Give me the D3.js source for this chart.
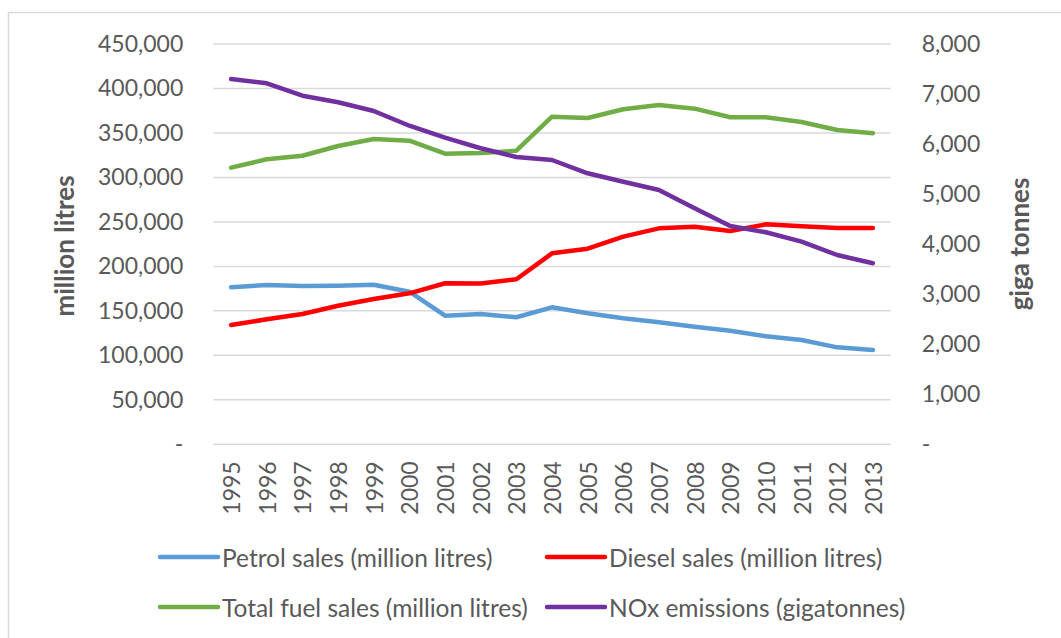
<!DOCTYPE html>
<html>
<head>
<meta charset="utf-8">
<script src="https://cdn.jsdelivr.net/npm/d3@7"></script>
<style>
  html, body { margin: 0; padding: 0; background: #fff; }
  svg { display: block; }
  text { font-family: Lato, "Open Sans", sans-serif; fill: #595959; }
</style>
</head>
<body>
<svg id="chart" width="1061" height="638"></svg>
<script>
const years = ["1995","1996","1997","1998","1999","2000","2001","2002","2003","2004","2005","2006","2007","2008","2009","2010","2011","2012","2013"];
const petrolSales = [176500,179000,178000,178300,179400,171500,144600,146500,142800,154000,147300,141600,137100,132200,127700,121400,117200,109000,106000];
const dieselSales = [134100,140500,146500,155800,163300,169700,181000,180800,185500,214700,219900,233400,242800,244600,239800,247300,245000,243200,243200];
const totalSales = [311000,320400,324400,335300,343200,341300,326700,327500,330000,368300,366800,376600,381400,377300,367600,367600,362300,353300,349600];
const noxEmissions = [7300,7215,6967,6835,6661,6367,6128,5916,5742,5682,5416,5248,5082,4716,4363,4237,4049,3783,3617];
const leftTicks = [0,50000,100000,150000,200000,250000,300000,350000,400000,450000];
const rightTicks = [0,1000,2000,3000,4000,5000,6000,7000,8000];
const seriesNames = ["Petrol sales (million litres)","Diesel sales (million litres)","Total fuel sales (million litres)","NOx emissions (gigatonnes)"];
const seriesColors = ["#5b9bd5","#ff0000","#70ad47","#7030a0"];

const svg = d3.select("#chart");
const plot = {left: 213.3, right: 890.7, top: 44, bottom: 444.3};

svg.append("rect").attr("x", 8.5).attr("y", 12.5).attr("width", 1100).attr("height", 700)
  .attr("fill", "#fff").attr("stroke", "#d9d9d9").attr("stroke-width", 1.5);

const x = d3.scaleBand().domain(years).range([plot.left, plot.right]);
const cx = d => x(d) + x.bandwidth() / 2;
const yL = d3.scaleLinear().domain([0, 450000]).range([plot.bottom, plot.top]);
const yR = d3.scaleLinear().domain([0, 8000]).range([plot.bottom, plot.top]);
const fmt = v => v === 0 ? "-" : d3.format(",")(v);

// gridlines
svg.append("g").selectAll("line").data(leftTicks).join("line")
  .attr("x1", plot.left).attr("x2", plot.right)
  .attr("y1", d => yL(d)).attr("y2", d => yL(d))
  .attr("stroke", "#d9d9d9").attr("stroke-width", 1.5);

// left axis
const leftAxis = svg.append("g").attr("transform", `translate(${plot.left},0)`)
  .call(d3.axisLeft(yL).tickValues(leftTicks).tickFormat(fmt).tickSize(0).tickPadding(30));
leftAxis.select(".domain").remove();
leftAxis.selectAll("text").style("font-size", "23px").style("fill", "#595959")
  .style("font-family", "Lato, 'Open Sans', sans-serif");

// right axis
const rightAxis = svg.append("g").attr("transform", `translate(${plot.right},0)`)
  .call(d3.axisRight(yR).tickValues(rightTicks).tickFormat(fmt).tickSize(0).tickPadding(31));
rightAxis.select(".domain").remove();
rightAxis.selectAll("text").style("font-size", "23px").style("fill", "#595959")
  .style("font-family", "Lato, 'Open Sans', sans-serif");

// x axis
const xAxis = svg.append("g").attr("transform", `translate(0,${plot.bottom})`)
  .call(d3.axisBottom(x).tickSize(0).tickPadding(0));
xAxis.select(".domain").remove();
xAxis.selectAll("text")
  .style("font-size", "23px").style("fill", "#595959")
  .style("font-family", "Lato, 'Open Sans', sans-serif")
  .attr("text-anchor", "end").attr("dy", null).attr("y", 0)
  .attr("transform", "translate(0,17) rotate(-90)")
  .attr("dominant-baseline", "central");

// axis titles
svg.append("text").attr("transform", "translate(64,246) rotate(-90)")
  .attr("text-anchor", "middle").attr("dominant-baseline", "central")
  .style("font-size", "26px").style("font-weight", "bold").text("million litres");
svg.append("text").attr("transform", "translate(1019,244) rotate(-90)")
  .attr("text-anchor", "middle").attr("dominant-baseline", "central")
  .style("font-size", "26px").style("font-weight", "bold").text("giga tonnes");

// lines
const lineL = d3.line().x((d, i) => cx(years[i])).y(d => yL(d));
const lineR = d3.line().x((d, i) => cx(years[i])).y(d => yR(d));
const series = [
  {vals: petrolSales, gen: lineL},
  {vals: dieselSales, gen: lineL},
  {vals: totalSales, gen: lineL},
  {vals: noxEmissions, gen: lineR}
];
series.forEach((s, i) => {
  svg.append("path").attr("d", s.gen(s.vals))
    .attr("fill", "none").attr("stroke", seriesColors[i]).attr("stroke-width", 4.5)
    .attr("stroke-linejoin", "round").attr("stroke-linecap", "round");
});

// legend
const legendPos = [[160, 557], [547, 557], [160, 607], [547, 607]];
seriesNames.forEach((name, i) => {
  const [lx, ly] = legendPos[i];
  svg.append("line").attr("x1", lx).attr("x2", lx + 58).attr("y1", ly).attr("y2", ly)
    .attr("stroke", seriesColors[i]).attr("stroke-width", 4.5).attr("stroke-linecap", "round");
  svg.append("text").attr("x", lx + 62).attr("y", ly).attr("dominant-baseline", "central")
    .style("font-size", "24.5px").text(name);
});
</script>
</body>
</html>
